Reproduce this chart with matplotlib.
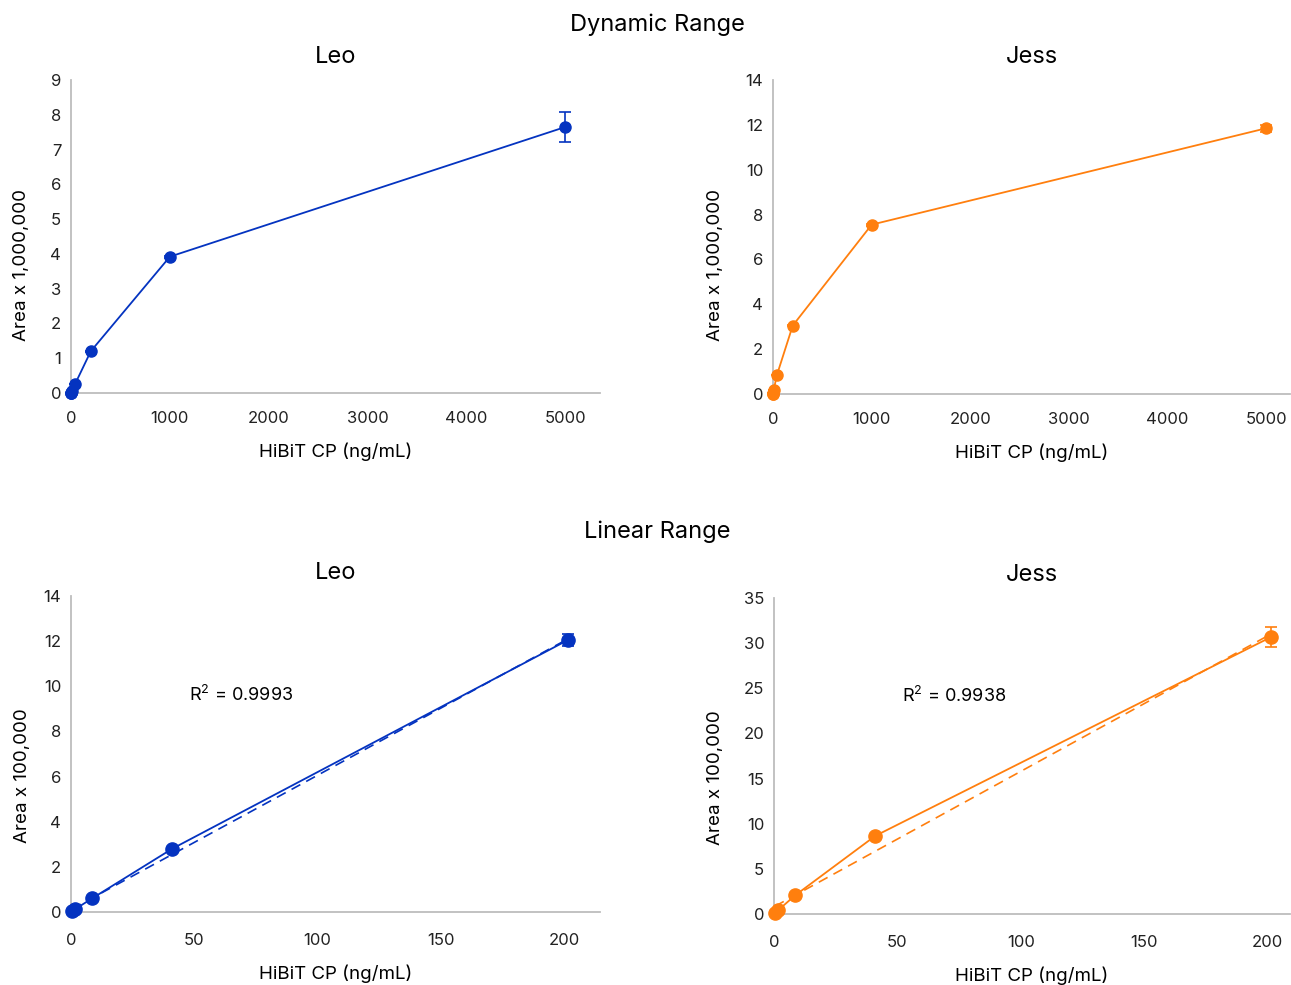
import numpy as np
import matplotlib
matplotlib.use('Agg')
import matplotlib.pyplot as plt

plt.rcParams['font.family'] = ['Inter', 'DejaVu Sans']
plt.rcParams['mathtext.fontset'] = 'custom'
plt.rcParams['mathtext.rm'] = 'Inter'

blue = '#0433c0'
orange = '#ff7f0e'

# dynamic range (Area x 1,000,000)
dyn_x = [0, 0.32, 1.6, 8, 40, 200, 1000, 5000]
leo_dyn = [0.0, 0.0, 0.01, 0.06, 0.25, 1.2, 3.92, 7.65]
leo_dyn_err = [0, 0, 0, 0, 0, 0.02, 0.03, 0.42]
jess_dyn = [0.0, 0.01, 0.04, 0.2, 0.85, 3.05, 7.55, 11.85]
jess_dyn_err = [0, 0, 0, 0, 0, 0.03, 0.05, 0.15]

# linear range (Area x 100,000)
lin_x = [0.4, 1.6, 8.5, 41, 201.5]
leo_lin = [0.03, 0.12, 0.6, 2.8, 12.05]
leo_lin_err = [0, 0, 0.02, 0.05, 0.25]
jess_lin = [0.15, 0.4, 2.05, 8.65, 30.7]
jess_lin_err = [0, 0, 0.05, 0.15, 1.1]
leo_r2 = r'R$^{\mathregular{2}}$ = 0.9993'
jess_r2 = r'R$^{\mathregular{2}}$ = 0.9938'

W, H = 1291, 985
fig = plt.figure(figsize=(W / 100, H / 100), dpi=100)


def ax_px(l, r, t, b):
    return fig.add_axes([l / W, 1 - b / H, (r - l) / W, (b - t) / H])


def style(ax, title, ylab, xlim, ylim, xstep, ystep, ylab_xy, xpad):
    ax.set_xlim(*xlim)
    ax.set_ylim(*ylim)
    ax.set_xticks(np.arange(0, xlim[1] + 1e-9, xstep))
    ax.set_yticks(np.arange(0, ylim[1] + 1e-9, ystep))
    for s in ['top', 'right']:
        ax.spines[s].set_visible(False)
    for s in ['left', 'bottom']:
        ax.spines[s].set_color('#bdbdbd')
        ax.spines[s].set_linewidth(1.3)
    ax.tick_params(length=0, labelsize=12, colors='#222222')
    ax.tick_params(axis='y', pad=7)
    ax.tick_params(axis='x', pad=xpad)
    ax.set_title(title, fontsize=17, pad=12)
    ax.set_ylabel(ylab, fontsize=13.5)
    ax.yaxis.set_label_coords(*ylab_xy)
    ax.set_xlabel('HiBiT CP (ng/mL)', fontsize=13.5, labelpad=12)


def draw(ax, x, y, err, color, ms):
    ax.plot(x, y, color=color, lw=1.3, marker='o', ms=ms, clip_on=False, zorder=3)
    ax.errorbar(x, y, yerr=err, fmt='none', ecolor=color, elinewidth=1.2,
                capsize=4, capthick=1.2, clip_on=False, zorder=3)


ax1 = ax_px(71, 600, 80, 393)
draw(ax1, dyn_x, leo_dyn, leo_dyn_err, blue, 8)
style(ax1, 'Leo', 'Area x 1,000,000', (0, 5350), (0, 9), 1000, 1, (-0.077, 0.41), 13)

ax2 = ax_px(773, 1290, 80, 394)
draw(ax2, dyn_x, jess_dyn, jess_dyn_err, orange, 8)
style(ax2, 'Jess', 'Area x 1,000,000', (0, 5240), (0, 14), 1000, 2, (-0.095, 0.41), 13)

ax3 = ax_px(71, 600, 596, 912)
draw(ax3, lin_x, leo_lin, leo_lin_err, blue, 9.5)
k, b0 = np.polyfit(lin_x, leo_lin, 1)
xs = np.array([lin_x[0], lin_x[-1]])
ax3.plot(xs, k * xs + b0, color=blue, lw=1.2, ls=(0, (6, 4)), zorder=2)
ax3.text(48, 9.6, leo_r2, fontsize=13, va='center')
style(ax3, 'Leo', 'Area x 100,000', (0, 214.5), (0, 14), 50, 2, (-0.075, 0.43), 15)

ax4 = ax_px(774, 1290, 598, 914)
draw(ax4, lin_x, jess_lin, jess_lin_err, orange, 9.5)
k, b0 = np.polyfit(lin_x, jess_lin, 1)
ax4.plot(xs, k * xs + b0, color=orange, lw=1.2, ls=(0, (6, 4)), zorder=2)
ax4.text(52, 24.1, jess_r2, fontsize=13, va='center')
style(ax4, 'Jess', 'Area x 100,000', (0, 209), (0, 35), 50, 5, (-0.097, 0.43), 15)

fig.text(657 / W, 1 - 25 / H, 'Dynamic Range', ha='center', va='center', fontsize=17)
fig.text(657 / W, 1 - 532 / H, 'Linear Range', ha='center', va='center', fontsize=17)

fig.savefig('out.png', dpi=100, facecolor='white')
